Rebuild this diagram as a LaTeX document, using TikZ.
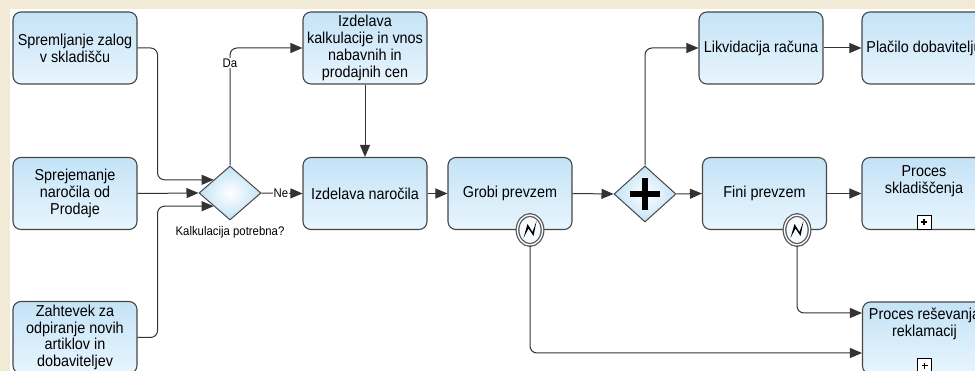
\documentclass[tikz,border=0pt]{standalone}
\usepackage{fontspec}
\setmainfont{Liberation Sans}[FakeStretch=0.91]
\usetikzlibrary{arrows.meta,shapes.geometric,calc}
\definecolor{bgbeige}{HTML}{F1EAD6}
\definecolor{bordergray}{HTML}{474747}
\definecolor{linegray}{HTML}{333333}
\definecolor{boxtop}{HTML}{C4E3F7}
\definecolor{boxbot}{HTML}{E8F5FD}
\definecolor{gwblue}{HTML}{C2E2F7}
\definecolor{ringgray}{HTML}{5A5A5A}
\newcommand\tasksize{\fontsize{15.8}{16.8}\selectfont}
\newcommand\lblsize{\fontsize{12.5}{13}\selectfont}
\tikzset{
  task/.style={draw=bordergray, line width=1.1pt, rounded corners=8pt,
    minimum width=124pt, minimum height=72pt, top color=boxtop, bottom color=boxbot,
    align=center, font=\tasksize, inner sep=1pt},
  gate/.style={diamond, draw=bordergray, line width=1pt, inner color=white, outer color=gwblue,
    minimum width=62pt, minimum height=54pt, inner sep=0, aspect=1.15},
  flow/.style={draw=linegray, line width=1pt, -{Triangle[length=12pt,width=10pt]}, rounded corners=7pt},
  event/.style={ellipse, draw=ringgray, line width=1.3pt, double=white, double distance=1.3pt,
    fill=white!85!boxtop, minimum width=25pt, minimum height=30pt, inner sep=0},
  submark/.style={draw=black, line width=0.9pt, fill=white, minimum size=14pt, inner sep=0},
  lbl/.style={font=\lblsize, inner sep=1pt}
}
\begin{document}
\begin{tikzpicture}[x=1pt,y=-1pt]
\useasboundingbox (0,0) rectangle (975,371);
\fill[bgbeige] (0,0) rectangle (975,371);
\fill[white] (10,9) rectangle (975,371);

% tasks
\node[task] (sz) at (75,48) {Spremljanje zalog\\v skladišču};
\node[task] (sn) at (75,193.5) {Sprejemanje\\naročila od\\Prodaje};
\node[task] (za) at (75,337.5) {Zahtevek za\\odpiranje novih\\artiklov in\\dobaviteljev};
\node[gate] (gw1) at (230,193) {};
\node[lbl] (kq) at (230,232) {Kalkulacija potrebna?};
\node[task] (kal) at (365,48) {Izdelava\\kalkulacije in vnos\\nabavnih in\\prodajnih cen};
\node[task] (izd) at (365,193.5) {Izdelava naročila};
\node[task] (grobi) at (510,193.5) {Grobi prevzem};
\node[gate, minimum width=62pt, minimum height=56pt] (gw2) at (645,194) {};
\node[task] (lik) at (761,48) {Likvidacija računa};
\node[task] (fini) at (764.5,193.5) {Fini prevzem};
\node[task] (plac) at (924,48) {Plačilo dobavitelju};
\node[task, label={[yshift=12pt, align=center, font=\tasksize]center:Proces\\skladiščenja}] (skl) at (924,193.5) {};
\node[task, label={[yshift=14pt, align=center, font=\tasksize]center:Proces reševanja\\reklamacij}] (res) at (924.5,338) {};

% gateway plus
\draw[line width=5.5pt] ($(gw2)+(-15,0)$) -- ($(gw2)+(15,0)$);
\draw[line width=5.5pt] ($(gw2)+(0,-16)$) -- ($(gw2)+(0,16)$);

% sub-process markers
\node[submark] (m1) at ($(skl.south)+(0,-8)$) {};
\node[submark] (m2) at ($(res.south)+(0,-9)$) {};
\foreach \m in {m1,m2}{
  \draw[line width=1.8pt] ($(\m)+(-3,0)$) -- ($(\m)+(3,0)$);
  \draw[line width=1.8pt] ($(\m)+(0,-3)$) -- ($(\m)+(0,3)$);
}

% coordinates
\coordinate (g1a) at ($(gw1.west)!0.48!(gw1.north)$);
\coordinate (g1b) at ($(gw1.west)!0.48!(gw1.south)$);
\coordinate (r1) at ($(res.west)+(0,-25)$);
\coordinate (r2) at ($(res.west)+(0,15)$);

% flows
\draw[flow] (sz.east) -- ++(20,0) |- (g1a);
\draw[flow] (sn.east) -- (gw1.west);
\draw[flow] (za.east) -- ++(20,0) |- (g1b);
\draw[flow] (gw1.north) |- (kal.west);
\draw[flow] (gw1.east) -- (izd.west);
\draw[flow] (kal.south) -- (izd.north);
\draw[flow] (izd.east) -- (grobi.west);
\draw[flow] (grobi.east) -- (gw2.west);
\draw[flow] (gw2.north) |- (lik.west);
\draw[flow] (gw2.east) -- (fini.west);
\draw[flow] (lik.east) -- (plac.west);
\draw[flow] (fini.east) -- (skl.west);

% events
\node[event] (e1) at (530,230) {};
\node[event] (e2) at (797,230) {};
\foreach \e in {e1,e2}{
  \fill[black] ($(\e)+(-6.5,8)$) -- ($(\e)+(-2.5,-6)$) -- ($(\e)+(2.5,2)$) -- ($(\e)+(6.5,-9)$)
     -- ($(\e)+(3.5,6)$) -- ($(\e)+(-1.5,-1.5)$) -- cycle;
}
\draw[flow] (e2.south) |- (r1);
\draw[flow] (e1.south) |- (r2);

% labels
\node[lbl, fill=white] (da) at (230,63) {Da};
\node[lbl, fill=white] (ne) at (281,193) {Ne};
\end{tikzpicture}
\end{document}
